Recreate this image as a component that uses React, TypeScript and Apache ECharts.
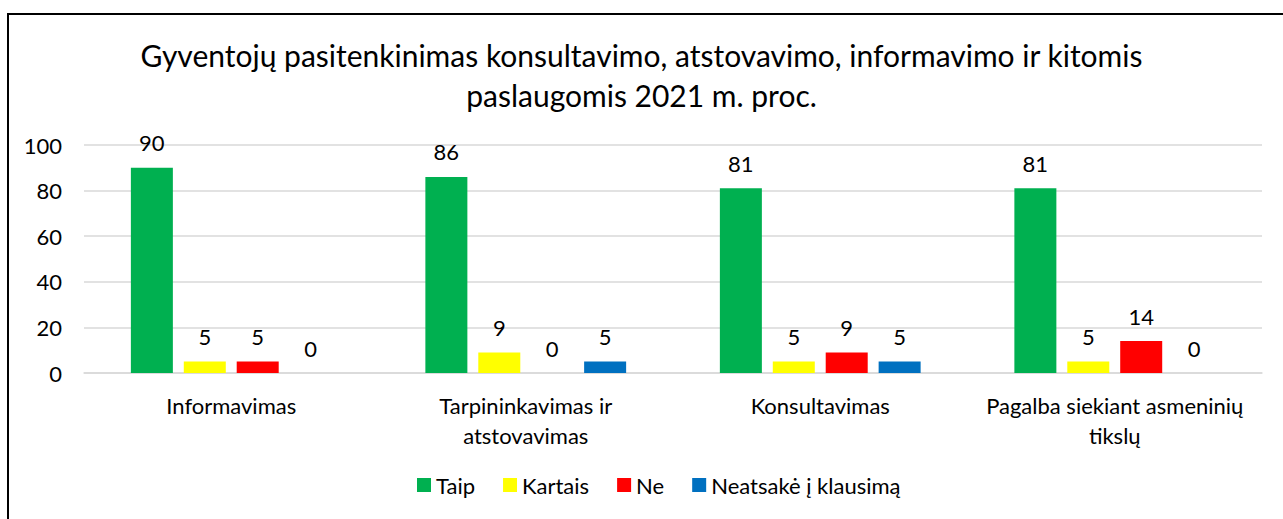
import React, { useEffect, useRef } from "react";
import * as echarts from "echarts";

const TITLE = "Gyventojų pasitenkinimas konsultavimo, atstovavimo, informavimo ir kitomis\npaslaugomis 2021 m. proc.";
const categories = [
  "Informavimas",
  "Tarpininkavimas ir\natstovavimas",
  "Konsultavimas",
  "Pagalba siekiant asmeninių\ntikslų",
];
const seriesNames = ["Taip", "Kartais", "Ne", "Neatsakė į klausimą"];
const taip = [90, 86, 81, 81];
const kartais = [5, 9, 5, 5];
const ne = [5, 0, 9, 14];
const neatsake = [0, 5, 5, 0];
const colors = ["#00B050", "#FFFF00", "#FF0000", "#0070C0"];
const yTicks = { min: 0, max: 100, interval: 20 };

const FONT = "Lato, 'Open Sans', sans-serif";

export default function App() {
  const ref = useRef<HTMLDivElement>(null);
  useEffect(() => {
    if (!ref.current) return;
    const chart = echarts.init(ref.current, undefined, { renderer: "svg" });
    const values = [taip, kartais, ne, neatsake];
    chart.setOption({
      animation: false,
      backgroundColor: "#fff",
      textStyle: { fontFamily: FONT },
      graphic: [
        {
          type: "rect",
          shape: { x: 8, y: 14, width: 1300, height: 600 },
          style: { fill: "none", stroke: "#000", lineWidth: 2 },
          silent: true,
        },
      ],
      title: {
        text: TITLE,
        left: "center",
        top: 30,
        padding: [5, 0, 5, 16],
        textStyle: {
          fontFamily: FONT,
          fontSize: 30,
          fontWeight: "normal",
          color: "#000",
          lineHeight: 40,
          align: "center",
        },
      },
      legend: {
        bottom: 18,
        left: 412,
        itemWidth: 14,
        itemHeight: 14,
        itemGap: 28,
        icon: "rect",
        textStyle: { fontFamily: FONT, fontSize: 22, color: "#000" },
        data: seriesNames,
      },
      grid: { left: 84, right: 21, top: 145, bottom: 146, containLabel: false },
      xAxis: {
        type: "category",
        data: categories,
        axisLine: { show: true, lineStyle: { color: "#D9D9D9", width: 1.5 } },
        axisTick: { show: false },
        axisLabel: {
          fontFamily: FONT,
          fontSize: 22,
          color: "#000",
          lineHeight: 30,
          margin: 17,
          interval: 0,
        },
      },
      yAxis: {
        type: "value",
        min: yTicks.min,
        max: yTicks.max,
        interval: yTicks.interval,
        axisLine: { show: false },
        axisTick: { show: false },
        splitLine: { lineStyle: { color: "#D9D9D9", width: 1.5 } },
        axisLabel: { fontFamily: FONT, fontSize: 22, color: "#000", margin: 22 },
      },
      series: seriesNames.map((name, i) => ({
        name,
        type: "bar",
        data: values[i],
        barWidth: 42,
        barGap: "26%",
        itemStyle: { color: colors[i] },
        label: {
          show: true,
          position: "top",
          distance: 14,
          fontFamily: FONT,
          fontSize: 22,
          color: "#000",
        },
      })),
    });
    return () => chart.dispose();
  }, []);
  return (
    <div
      ref={ref}
      style={{ position: "absolute", left: 0, top: 0, width: 1283, height: 519 }}
    />
  );
}
